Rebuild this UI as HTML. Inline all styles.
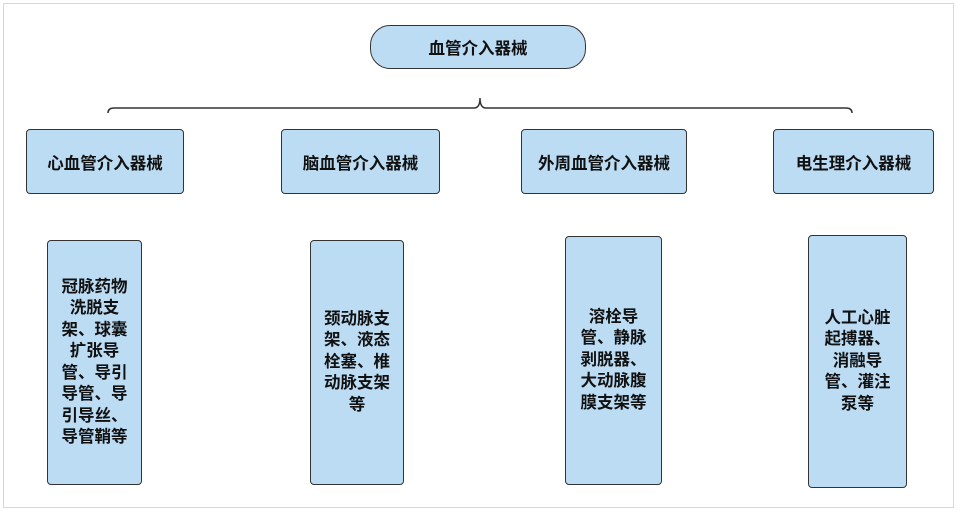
<!DOCTYPE html>
<html><head><meta charset="utf-8"><style>
body{margin:0;width:957px;height:511px;background:#fff;position:relative;overflow:hidden;font-family:"Liberation Sans","Noto Sans CJK SC",sans-serif;}
.frame{position:absolute;left:3px;top:3px;width:949px;height:503px;border:1px solid #d8d8d8;}
.b{position:absolute;background:#bcdcf4;border:1.5px solid #333;border-radius:4px;box-sizing:border-box;display:flex;align-items:center;justify-content:center;text-align:center;font-weight:bold;font-size:16.5px;color:#111;white-space:nowrap;}
.v{line-height:21.5px;}
</style></head><body>
<div class="frame"></div>
<div class="b" style="left:370px;top:25px;width:216px;height:44px;border-radius:20px;">血管介入器械</div>
<svg style="position:absolute;left:0;top:0" width="957" height="511">
<path d="M108 113 Q108 108 114 108 L474 108 Q480 108 480 98 Q480 108 486 108 L846 108 Q852 108 852 113" fill="none" stroke="#333" stroke-width="1.5"/>
</svg>
<div class="b" style="left:26px;top:129px;width:158px;height:65px;">心血管介入器械</div>
<div class="b" style="left:281px;top:129px;width:159px;height:65px;">脑血管介入器械</div>
<div class="b" style="left:521px;top:129px;width:166px;height:65px;">外周血管介入器械</div>
<div class="b" style="left:773px;top:129px;width:161px;height:65px;">电生理介入器械</div>
<div class="b v" style="left:47px;top:240px;width:95px;height:245px;">冠脉药物<br>洗脱支<br>架、球囊<br>扩张导<br>管、导引<br>导管、导<br>引导丝、<br>导管鞘等</div>
<div class="b v" style="left:310px;top:240px;width:94px;height:245px;">颈动脉支<br>架、液态<br>栓塞、椎<br>动脉支架<br>等</div>
<div class="b v" style="left:565px;top:236px;width:97px;height:249px;">溶栓导<br>管、静脉<br>剥脱器、<br>大动脉腹<br>膜支架等</div>
<div class="b v" style="left:808px;top:235px;width:99px;height:253px;">人工心脏<br>起搏器、<br>消融导<br>管、灌注<br>泵等</div>
</body></html>
